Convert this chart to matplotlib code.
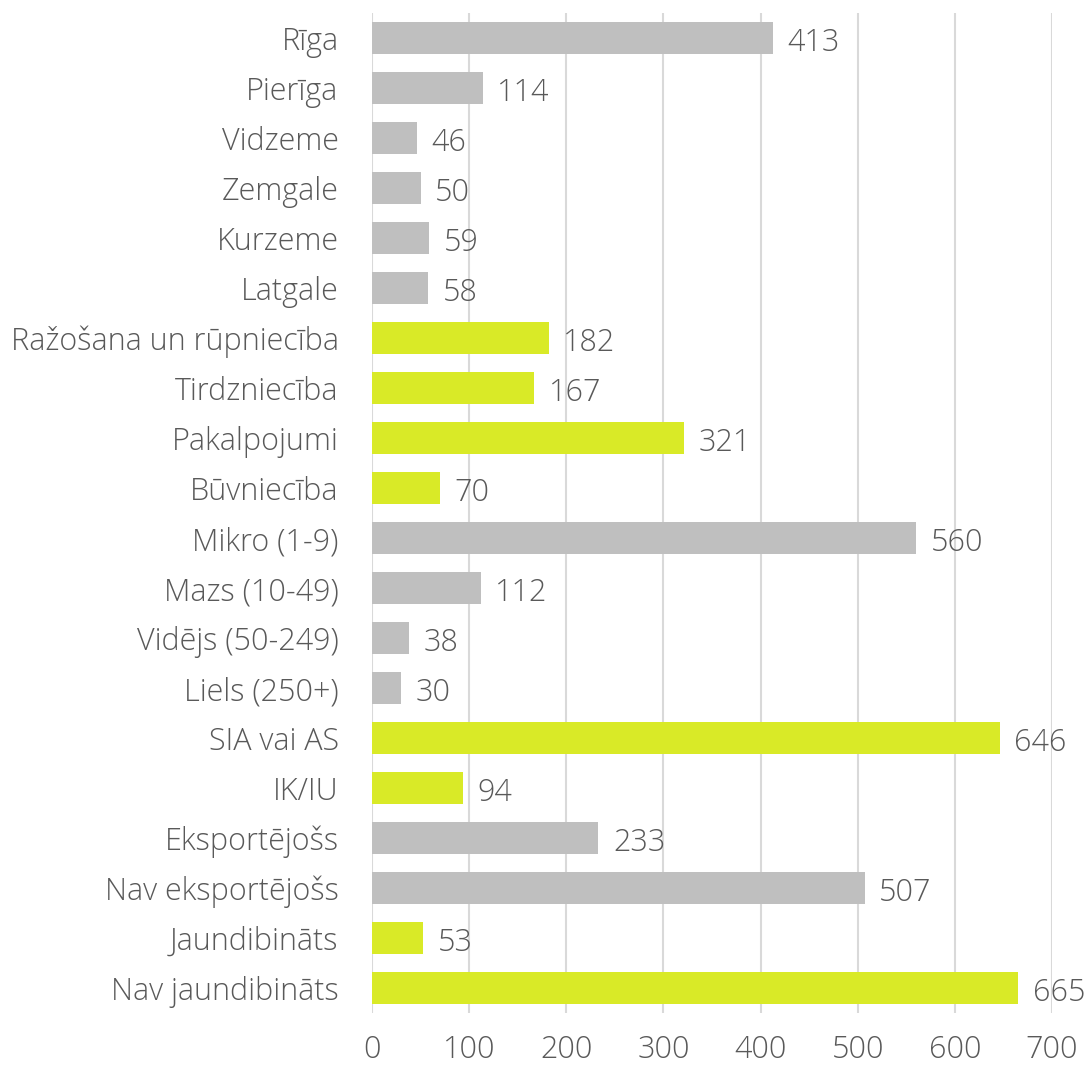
import matplotlib.pyplot as plt

categories = ["Rīga", "Pierīga", "Vidzeme", "Zemgale", "Kurzeme", "Latgale",
              "Ražošana un rūpniecība", "Tirdzniecība", "Pakalpojumi", "Būvniecība",
              "Mikro (1-9)", "Mazs (10-49)", "Vidējs (50-249)", "Liels (250+)",
              "SIA vai AS", "IK/IU",
              "Eksportējošs", "Nav eksportējošs",
              "Jaundibināts", "Nav jaundibināts"]
values = [413, 114, 46, 50, 59, 58,
          182, 167, 321, 70,
          560, 112, 38, 30,
          646, 94,
          233, 507,
          53, 665]
# group index per row: 0 = gray, 1 = green
groups = [0] * 6 + [1] * 4 + [0] * 4 + [1] * 2 + [0] * 2 + [1] * 2
palette = ["#BFBFBF", "#D9EA27"]
xticks = [0, 100, 200, 300, 400, 500, 600, 700]

plt.rcParams['font.family'] = ['Open Sans', 'DejaVu Sans']
plt.rcParams['font.weight'] = 'light'

fig = plt.figure(figsize=(10.86, 10.67), dpi=100)
ax = fig.add_axes([0.3425, 0.0506, 0.6262, 0.9372])

pos = list(range(len(categories)))
colors = [palette[g] for g in groups]
ax.barh(pos, values, height=0.64, color=colors, zorder=2)

for y, v in zip(pos, values):
    ax.text(v + 15, y + 0.1, str(v), va='center', ha='left',
            fontsize=22, color='#595959')

ax.set_xlim(0, 700)
ax.set_ylim(len(categories) - 0.5, -0.5)
ax.set_xticks(xticks)
ax.set_yticks(pos)
ax.set_yticklabels(categories)
ax.grid(axis='x', color='#D9D9D9', linewidth=1.5, zorder=0)
ax.tick_params(axis='both', length=0, labelsize=22, colors='#595959')
ax.tick_params(axis='x', pad=15)
ax.tick_params(axis='y', pad=24)
for s in ax.spines.values():
    s.set_visible(False)

fig.savefig('out.png', dpi=100)
